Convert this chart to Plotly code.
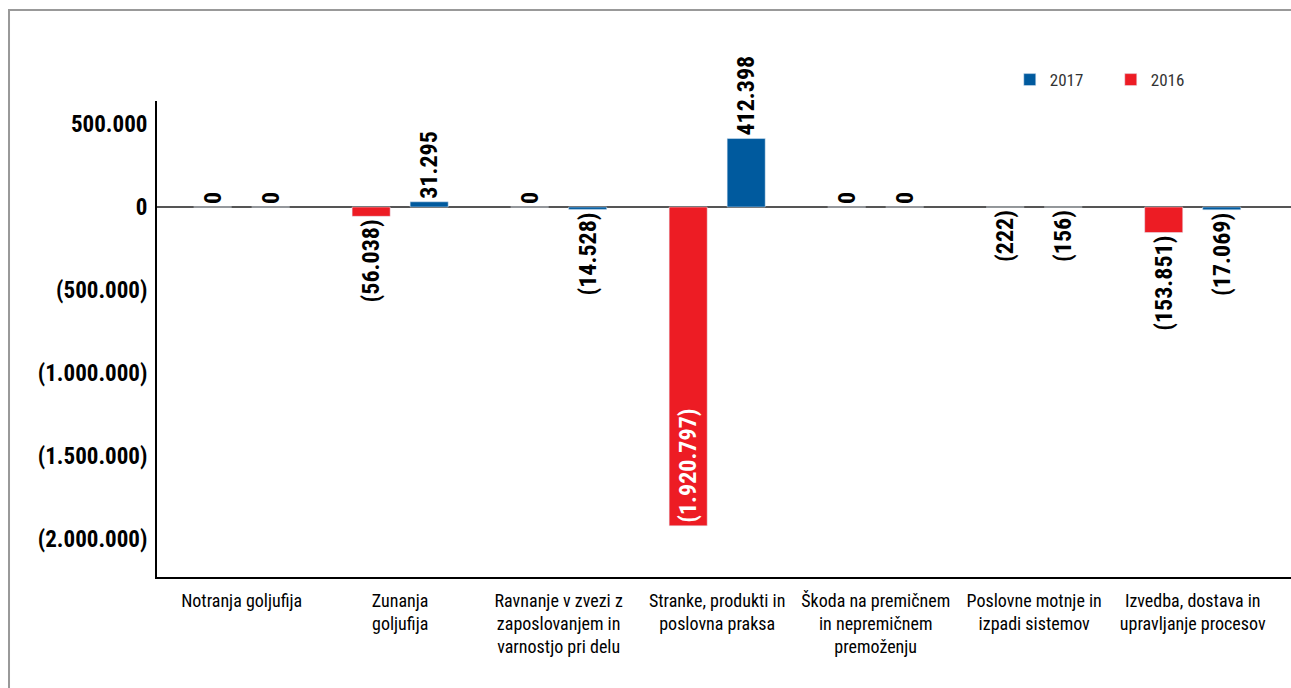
import plotly.graph_objects as go

categories = [
    "Notranja goljufija",
    "Zunanja<br>goljufija",
    "Ravnanje v zvezi z<br>zaposlovanjem in<br>varnostjo pri delu",
    "Stranke, produkti in<br>poslovna praksa",
    "Škoda na premičnem<br>in nepremičnem<br>premoženju",
    "Poslovne motnje in<br>izpadi sistemov",
    "Izvedba, dostava in<br>upravljanje procesov",
]
values_2016 = [0, -56038, 0, -1920797, 0, -222, -153851]
values_2017 = [0, 31295, -14528, 412398, 0, -156, -17069]
tick_values = [500000, 0, -500000, -1000000, -1500000, -2000000]
tick_labels = ["500.000", "0", "(500.000)", "(1.000.000)", "(1.500.000)", "(2.000.000)"]

def fmt(v):
    s = f"{abs(v):,}".replace(",", ".")
    return f"({s})" if v < 0 else s

NARROW = "Liberation Sans Narrow, Arial Narrow, Roboto Condensed, DejaVu Sans Condensed, sans-serif"
RED = "#ED1C24"
BLUE = "#005A9E"

x = list(range(len(categories)))

def positions(vals):
    return ["inside" if v < -1000000 else "outside" for v in vals]

def colors(vals):
    return ["white" if v < -1000000 else "black" for v in vals]

fig = go.Figure()
fig.add_trace(go.Bar(
    x=x, y=values_2016, name="2016", marker_color=RED,
    text=[fmt(v) for v in values_2016], textposition=positions(values_2016),
    textangle=-90, insidetextanchor="end", constraintext="none", cliponaxis=False,
    textfont=dict(family=NARROW, size=24, weight="bold", color=colors(values_2016)),
))
fig.add_trace(go.Bar(
    x=x, y=values_2017, name="2017", marker_color=BLUE,
    text=[fmt(v) for v in values_2017], textposition=positions(values_2017),
    textangle=-90, insidetextanchor="end", constraintext="none", cliponaxis=False,
    textfont=dict(family=NARROW, size=24, weight="bold", color=colors(values_2017)),
))

fig.update_layout(
    width=1291, height=688,
    margin=dict(l=157, r=0, t=101, b=111),
    paper_bgcolor="white", plot_bgcolor="white",
    barmode="group", bargap=0.268, bargroupgap=0.344,
    showlegend=True,
    legend=dict(
        orientation="h", traceorder="reversed",
        x=0.752, xanchor="left", y=1.044, yanchor="middle",
        font=dict(family=NARROW, size=17, color="#333333"),
        entrywidth=56, entrywidthmode="pixels",
        bgcolor="rgba(0,0,0,0)",
    ),
    xaxis=dict(
        range=[-0.534, 6.62],
        tickmode="array", tickvals=x, ticktext=categories,
        tickfont=dict(family=NARROW, size=18, color="black"),
        showline=True, linecolor="black", linewidth=2,
        showgrid=False, ticks="", zeroline=False,
        ticklabelstandoff=6,
    ),
    yaxis=dict(
        range=[-2228916, 638554],
        tickmode="array", tickvals=tick_values, ticktext=tick_labels,
        tickfont=dict(family=NARROW, size=23, weight="bold", color="black"),
        showline=True, linecolor="black", linewidth=2,
        showgrid=False, ticks="",
        zeroline=True, zerolinecolor="#555555", zerolinewidth=2,
        ticklabelstandoff=3,
    ),
    shapes=[dict(
        type="rect", xref="paper", yref="paper",
        x0=-0.1305, x1=1.05, y0=-0.3, y1=1.191,
        line=dict(color="#999999", width=2), layer="below",
    )],
)

fig.write_html("out.html")
